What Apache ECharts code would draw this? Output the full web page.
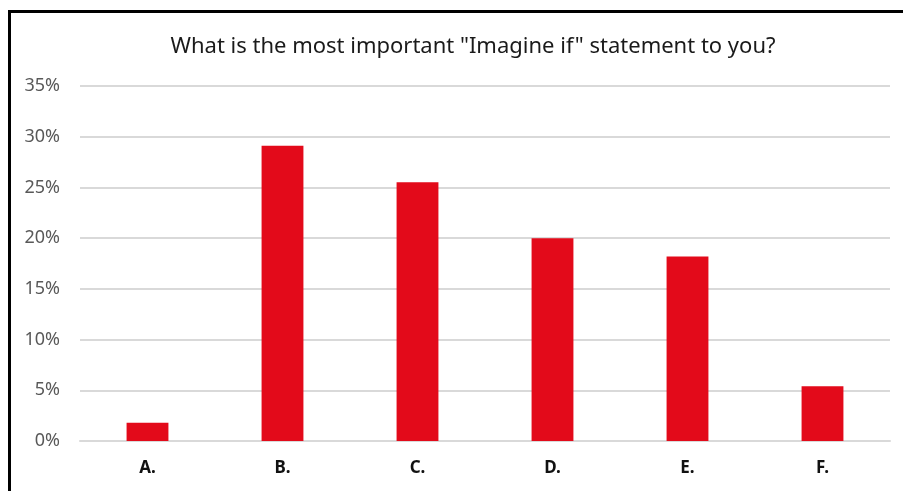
<!DOCTYPE html>
<html>
<head>
<meta charset="utf-8">
<script src="https://cdn.jsdelivr.net/npm/echarts@6/dist/echarts.min.js"></script>
<style>
  html, body { margin: 0; padding: 0; background: #fff; }
  #chart { width: 903px; height: 491px; }
</style>
</head>
<body>
<div id="chart"></div>
<script>
// Survey answers and their share of responses (percent)
const categories = ['A.', 'B.', 'C.', 'D.', 'E.', 'F.'];
const shares = [1.8, 29.1, 25.5, 20.0, 18.2, 5.4];
const titleText = 'What is the most important "Imagine if" statement to you?';

const FONT = '"Noto Sans", "Open Sans", sans-serif';

const chart = echarts.init(document.getElementById('chart'));
chart.setOption({
  animation: false,
  backgroundColor: '#ffffff',
  title: {
    text: titleText,
    left: 468,
    top: 31,
    textAlign: 'center',
    textStyle: { fontFamily: FONT, fontSize: 22, fontWeight: 'normal', color: '#1a1a1a' }
  },
  graphic: [{
    type: 'rect',
    shape: { x: 9.5, y: 11.5, width: 1000, height: 1000 },
    style: { fill: 'none', stroke: '#000', lineWidth: 3 },
    silent: true
  }],
  grid: { left: 80, right: 13, top: 86, bottom: 50 },
  xAxis: {
    type: 'category',
    data: categories,
    axisLine: { show: true, lineStyle: { color: '#d9d9d9', width: 2 } },
    axisTick: { show: false },
    axisLabel: { fontFamily: FONT, fontSize: 17, fontWeight: 'bold', color: '#111', margin: 19 }
  },
  yAxis: {
    type: 'value',
    min: 0,
    max: 35,
    interval: 5,
    axisLine: { show: false },
    axisTick: { show: false },
    splitLine: { lineStyle: { color: '#d9d9d9', width: 2 } },
    axisLabel: { fontFamily: FONT, fontSize: 18, color: '#595959', margin: 20, formatter: v => v + '%' }
  },
  series: [{
    type: 'bar',
    data: shares,
    barWidth: '31%',
    itemStyle: { color: '#e30a1a' }
  }]
});
</script>
</body>
</html>
